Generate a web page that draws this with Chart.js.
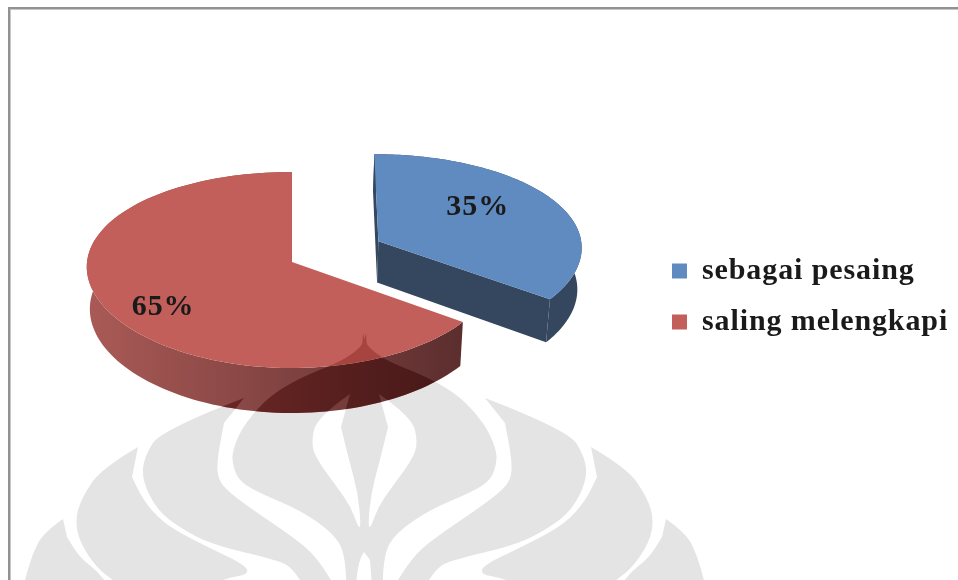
<!DOCTYPE html>
<html>
<head>
<meta charset="utf-8">
<title>Pie</title>
<script src="https://cdn.jsdelivr.net/npm/chart.js@4"></script>
<style>
    html, body { margin: 0; padding: 0; background: #fff; overflow: hidden; }
    canvas { display: block; }
</style>
</head>
<body>
<canvas id="pieChart" width="958" height="580"></canvas>
<script>
const categories = ["sebagai pesaing", "saling melengkapi"];
const shares = [35, 65];
const sliceColors = ["#5f8bc1", "#c25f5b"];

// wall colours, left end and right end of the gradient
const wallColors = [["#34475f", "#34475f"], ["#aa5a56", "#5c2e2e"]];
const labelSpots = [{ r: 0.62, dx: -10, dy: -8 }, { r: 0.7, dx: 1, dy: 13 }];

const FONT = "'Liberation Serif', 'Times New Roman', serif";
const TILT = 0.475;       // ellipse height / width
const PERSPECTIVE_Y = 0.0816;
const PERSPECTIVE_X = 0.05;
const DEPTH = 42;
const LOGO_AXIS = 729;    // x + mirrored x of the watermark

// watermark outlines, left half, mirrored for the right half
const logoOuter = [[366, 333], [364, 343], [354, 353], [337, 363], [302, 377], [274, 393], [254, 412], [240, 432], [233, 450], [232, 462], [238, 480], [257, 492], [300, 510], [333, 533], [345, 553], [347, 600], [382, 600]];
const logoPetals = [
    [[63, 519], [43, 533], [32, 555], [25, 580], [20, 600], [118, 600], [100, 573], [80, 558], [67, 537]],
    [[138, 447], [102, 468], [82, 497], [75, 520], [80, 543], [97, 568], [113, 580], [135, 600], [190, 600], [217, 580], [260, 572], [197, 542], [163, 523], [143, 500], [132, 477]],
    [[244, 398], [161, 430], [144, 457], [142, 480], [157, 510], [180, 528], [213, 545], [277, 560], [293, 568], [312, 600], [343, 600], [317, 557], [293, 537], [253, 510], [230, 493], [218, 480], [217, 460], [224, 423]]
];
const logoStripe = [[350, 394], [317, 417], [311, 443], [317, 460], [337, 487], [351, 507], [358, 527], [361, 527], [358, 493], [349, 460], [341, 427]];
const logoFlame = [[364, 552], [358, 560], [355, 600], [373, 600], [370, 560]];

function tracePoly(ctx, pts) {
    ctx.beginPath();
    ctx.moveTo(pts[0][0], pts[0][1]);
    for (let i = 1; i < pts.length - 1; i++) {
        let mx = (pts[i][0] + pts[i + 1][0]) / 2;
        let my = (pts[i][1] + pts[i + 1][1]) / 2;
        ctx.quadraticCurveTo(pts[i][0], pts[i][1], mx, my);
    }
    ctx.lineTo(pts[pts.length - 1][0], pts[pts.length - 1][1]);
    ctx.closePath();
}

function paintLogo(ctx, color) {
    let mirrored = pts => pts.map(p => [LOGO_AXIS - p[0], p[1]]);
    ctx.fillStyle = color;
    logoPetals.forEach(pts => {
        tracePoly(ctx, pts);
        ctx.fill();
        tracePoly(ctx, mirrored(pts));
        ctx.fill();
    });
    tracePoly(ctx, logoOuter);
    ctx.fill();
    tracePoly(ctx, mirrored(logoOuter));
    ctx.fill();
    ctx.fillRect(346, 500, 37, 80);
    ctx.fillStyle = "#ffffff";
    [logoStripe, mirrored(logoStripe), logoFlame].forEach(pts => {
        tracePoly(ctx, pts);
        ctx.fill();
    });
}

function tintedLogo(color) {
    let off = document.createElement("canvas");
    off.width = 958;
    off.height = 580;
    let c = off.getContext("2d");
    c.fillStyle = "#ffffff";
    c.fillRect(0, 0, 958, 580);
    paintLogo(c, color);
    return off;
}

const wallTint = tintedLogo("#bd8482");
const faceTint = tintedLogo("#ddb5b3");

function overlayLogo(ctx, pts, image) {
    ctx.save();
    ctx.beginPath();
    pts.forEach((p, i) => i ? ctx.lineTo(p[0], p[1]) : ctx.moveTo(p[0], p[1]));
    ctx.closePath();
    ctx.clip();
    ctx.globalCompositeOperation = "multiply";
    ctx.drawImage(image, 0, 0);
    ctx.restore();
}

function fillPoly(ctx, pts, style) {
    ctx.beginPath();
    pts.forEach((p, i) => i ? ctx.lineTo(p[0], p[1]) : ctx.moveTo(p[0], p[1]));
    ctx.closePath();
    ctx.fillStyle = style;
    ctx.fill();
}

// disc point (u, v) in radius units, h = 0 top face, h = 1 bottom face
function project(arc, u, v, h) {
    let R = arc.outerRadius;
    return [
        arc.x + R * u / (1 - PERSPECTIVE_X * v) * (1 - 0.015 * h),
        arc.y + R * TILT * v / (1 - PERSPECTIVE_Y * v) + h * (DEPTH + 3 * v)
    ];
}

function wedgePoints(arc) {
    let mid = (arc.startAngle + arc.endAngle) / 2;
    let off = (arc.options.offset || 0) / arc.outerRadius;
    let apex = [off * Math.cos(mid), off * Math.sin(mid)];
    let rim = [];
    for (let i = 0; i <= 120; i++) {
        let a = arc.startAngle + (arc.endAngle - arc.startAngle) * i / 120;
        rim.push([apex[0] + Math.cos(a), apex[1] + Math.sin(a)]);
    }
    return { apex, rim, mid };
}

const pie3d = {
    id: "pie3d",
    beforeDraw(chart) {
        let ctx = chart.ctx;
        ctx.save();
        ctx.fillStyle = "#ffffff";
        ctx.fillRect(0, 0, 958, 580);
        paintLogo(ctx, "#e4e4e4");
        ctx.fillStyle = "#c6c6c6";
        ctx.fillRect(10, 9, 948, 1);
        ctx.fillRect(10, 9, 1, 571);
        ctx.fillStyle = "#929292";
        ctx.fillRect(8, 7, 950, 2);
        ctx.fillRect(8, 7, 2, 573);
        ctx.restore();
        // the text in the picture runs wider than the plain font
        ctx.letterSpacing = "0.9px";
    },
    afterLayout(chart) {
        // legend sits right of the pie, not where the layout would put it
        let legend = chart.legend;
        legend.left = 651;
        legend.top = 235;
        legend.right = 958;
        legend.bottom = 400;
    },
    beforeDatasetsDraw(chart) {
        let ctx = chart.ctx;
        let arcs = chart.getDatasetMeta(0).data;
        ctx.save();
        arcs.forEach((arc, idx) => {
            let w = wedgePoints(arc);
            let topRim = w.rim.map(p => project(arc, p[0], p[1], 0));
            let lowRim = w.rim.map(p => project(arc, p[0], p[1], 1));

            // outer wall
            let wall = topRim.concat(lowRim.slice().reverse());
            let grad = ctx.createLinearGradient(arc.x - arc.outerRadius, 0, arc.x + arc.outerRadius * 0.82, 0);
            grad.addColorStop(0, wallColors[idx][0]);
            grad.addColorStop(1, wallColors[idx][1]);
            fillPoly(ctx, wall, grad);
            overlayLogo(ctx, wall, wallTint);

            // cut faces
            let apexTop = project(arc, w.apex[0], w.apex[1], 0);
            let apexLow = project(arc, w.apex[0], w.apex[1], 1);
            if (idx === 0) {
                let last = w.rim.length - 1;
                fillPoly(ctx, [apexTop, topRim[last], lowRim[last], apexLow], wallColors[idx][1]);
                fillPoly(ctx, [apexTop, topRim[0], lowRim[0], apexLow], wallColors[idx][1]);
            }

            // top face
            let face = [apexTop].concat(topRim);
            fillPoly(ctx, face, sliceColors[idx]);
            overlayLogo(ctx, face, faceTint);
        });

        // percent labels
        let total = shares.reduce((a, b) => a + b, 0);
        ctx.font = "bold 30px " + FONT;
        ctx.fillStyle = "#1a1a1a";
        ctx.textAlign = "center";
        ctx.textBaseline = "middle";
        arcs.forEach((arc, idx) => {
            let w = wedgePoints(arc);
            let s = labelSpots[idx];
            let p = project(arc, w.apex[0] + s.r * Math.cos(w.mid), w.apex[1] + s.r * Math.sin(w.mid), 0);
            ctx.fillText(Math.round(shares[idx] / total * 100) + "%", p[0] + s.dx, p[1] + s.dy);
        });
        ctx.restore();
        return false;
    }
};

var pieChart = new Chart(document.getElementById("pieChart"), {
    type: "pie",
    data: {
        labels: categories,
        datasets: [{
            data: shares,
            backgroundColor: sliceColors,
            borderWidth: 0,
            offset: [98, 0],
            radius: 205
        }]
    },
    options: {
        responsive: false,
        animation: false,
        layout: { padding: { left: 0, top: 0, right: 374, bottom: 56 } },
        plugins: {
            tooltip: { enabled: false },
            legend: {
                position: "chartArea",
                align: "start",
                labels: {
                    boxWidth: 15,
                    boxHeight: 15,
                    padding: 21,
                    color: "#1a1a1a",
                    font: { family: FONT, size: 30, weight: "bold" }
                }
            }
        }
    },
    plugins: [pie3d]
});
</script>
</body>
</html>
